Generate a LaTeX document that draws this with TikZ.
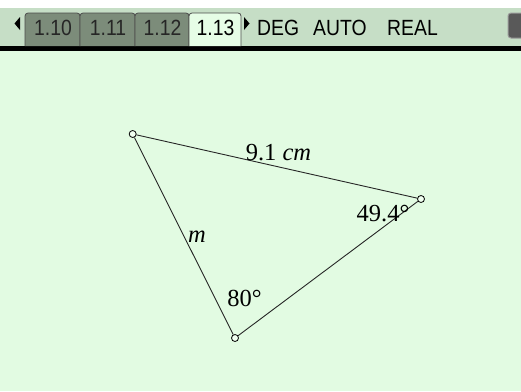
\documentclass[tikz,border=0pt]{standalone}
\usepackage{fontspec}
\setmainfont{Liberation Serif}
\newfontfamily\barfont[FakeStretch=0.88]{Liberation Sans}
\begin{document}
\begin{tikzpicture}[x=1pt,y=-1pt,
  tabbox/.style={draw=black!70,line width=0.8pt,rounded corners=3pt},
  tabtxt/.style={anchor=base,font=\barfont\fontsize{22}{24}\selectfont,inner sep=0pt,text=black!85},
  vtx/.style={circle,draw=black,fill=white!40!green!10,line width=0.8pt,minimum size=7pt,inner sep=0pt},
  side/.style={draw=black!85,line width=0.9pt},
  lbl/.style={anchor=base,inner sep=0pt,font=\fontsize{24.5}{26}\selectfont}]
\definecolor{mainbg}{HTML}{E2FBE2}
\definecolor{barbg}{HTML}{C6DEC6}
\definecolor{tabgray}{HTML}{7C8C7A}
\definecolor{acttab}{HTML}{E6FDE6}
\useasboundingbox (0,0) rectangle (521,391);
\fill[white] (0,0) rectangle (521,8);
\fill[barbg] (0,8) rectangle (521,46);
\fill[black] (0,46) rectangle (521,51);
\fill[mainbg] (0,51) rectangle (521,391);
% tabs
\draw[tabbox,fill=tabgray] (25,46) -- (25,13) -- (80,13) -- (80,46);
\draw[tabbox,fill=tabgray] (80,46) -- (80,13) -- (135,13) -- (135,46);
\draw[tabbox,fill=tabgray] (135,46) -- (135,13) -- (189,13) -- (189,46);
\draw[tabbox,fill=acttab] (189,46) -- (189,13) -- (241,13) -- (241,46);
\node[tabtxt] (t1) at (53,35) {1.10};
\node[tabtxt] (t2) at (108,35) {1.11};
\node[tabtxt] (t3) at (162.5,35) {1.12};
\node[tabtxt,text=black] (t4) at (215.5,35) {1.13};
\fill[black] (20,17) -- (20,30) -- (14.5,23.5) -- cycle;
\fill[black] (244,17) -- (244,30) -- (249.5,23.5) -- cycle;
\node[tabtxt,anchor=base west,text=black] (deg) at (257,35) {DEG};
\node[tabtxt,anchor=base west,text=black] (auto) at (313,35) {AUTO};
\node[tabtxt,anchor=base west,text=black] (real) at (387,35) {REAL};
% battery
\draw[fill=black!65,draw=black!40,line width=1pt,rounded corners=3pt] (508,13) rectangle (530,38);
% triangle
\node[vtx] (A) at (132.7,134) {};
\node[vtx] (B) at (421,199) {};
\node[vtx] (C) at (235,338) {};
\draw[side] (A) -- (B);
\draw[side] (B) -- (C);
\draw[side] (C) -- (A);
\node[lbl] (len) at (278.5,160) {9.1 \textit{cm}};
\node[lbl] (angB) at (383,221.5) {49.4°};
\node[lbl] (sm) at (197,242) {\textit{m}};
\node[lbl] (angC) at (244.5,306) {80°};
\end{tikzpicture}
\end{document}
